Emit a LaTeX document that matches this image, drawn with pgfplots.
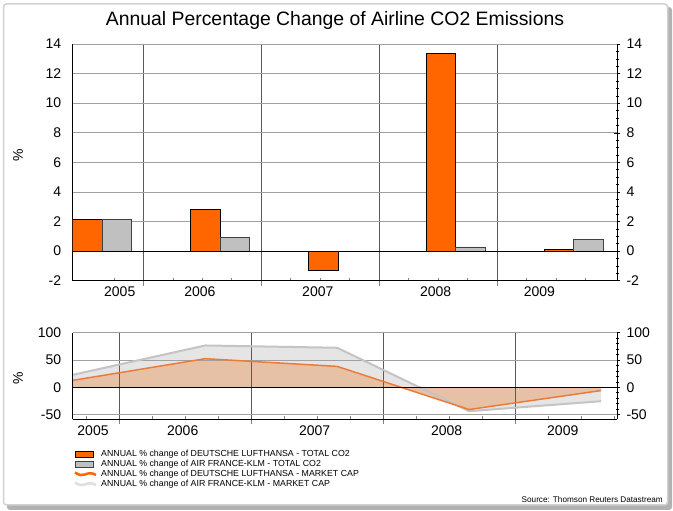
\documentclass[border=0pt]{standalone}
\usepackage{fontspec}
\setmainfont{Liberation Sans}
\usepackage{pgfplots}
\pgfplotsset{compat=1.18}

\definecolor{lhorange}{HTML}{FF6600}
\definecolor{afgray}{HTML}{C0C0C0}
\definecolor{lhline}{HTML}{EE7A3A}
\definecolor{lhfill}{HTML}{E7C1A6}
\definecolor{affill}{HTML}{E5E5E5}
\definecolor{afline}{HTML}{C4C4C4}
\definecolor{gridh}{HTML}{A0A0A0}
\definecolor{gridv}{HTML}{5A5A5A}

\tikzset{hgrid/.style={draw=gridh, line width=0.7pt}}

\pgfplotsset{
  base/.style={
    scale only axis, width=544.3pt,
    /pgf/number format/assume math mode=true,
    ticklabel style={font=\fontsize{14}{14}\selectfont},
    axis line style={-, black, line width=0.8pt},
  },
  % left/bottom axis: vertical grid, x ticks, left tick labels
  mainax/.style={
    base,
    axis x line*=bottom, axis y line*=left,
    xmajorgrids,
    major grid style={gridv, line width=0.5pt},
    ytick style={draw=none},
    tick align=outside, major tick length=5pt, minor tick length=3pt,
    minor tick style={yshift=3pt, line width=0.5pt},
    major tick style={line width=0.6pt},
    xtick={2006,2007,2008,2009}, xticklabels={,,,},
    extra x ticks={2005.80,2006.48,2007.48,2008.48,2009.36},
    extra x tick labels={2005,2006,2007,2008,2009},
    extra x tick style={grid=none, major tick length=0pt},
  },
  % right axis: data, right tick labels
  rightax/.style={
    base,
    axis x line=none, axis y line*=right,
    tick align=center, major tick length=6pt, minor tick length=3pt,
    tick style={black, line width=0.5pt},
  },
}

\begin{document}
\begin{tikzpicture}[x=1pt,y=1pt]
\useasboundingbox (0,0) rectangle (673,511);
% frame
\fill[gray!60, rounded corners=3pt] (7,1) rectangle (672,504);
\filldraw[fill=white, draw=gray!35, line width=1.5pt, rounded corners=3pt] (3.5,6) rectangle (667.5,507);

\node[font=\fontsize{19.4}{19.4}\selectfont] at (335,491) {Annual Percentage Change of Airline CO2 Emissions};
\node[rotate=90, font=\fontsize{14}{14}\selectfont] at (18,356) {\%};
\node[rotate=90, font=\fontsize{14}{14}\selectfont] at (18,133) {\%};

% ---------- top chart ----------
\begin{axis}[mainax, at={(72.7pt,230.3pt)}, anchor=south west, height=236.7pt,
  xmin=2005.401, xmax=2010.018, ymin=-2, ymax=14, ytick={-2,0,...,14},
  minor xtick={2005.75,2006.25,2006.5,2006.75,2007.25,2007.5,2007.75,2008.25,2008.5,2008.75,2009.25,2009.5,2009.75},
  yticklabel style={xshift=-3pt}, xticklabel style={yshift=-2pt}]
\end{axis}
\begin{axis}[rightax, at={(72.7pt,230.3pt)}, anchor=south west, height=236.7pt,
  xmin=2005.401, xmax=2010.018, ymin=-2, ymax=14, ytick={-2,0,...,14},
  minor y tick num=3, yticklabel style={xshift=3pt}]
\pgfplotsinvokeforeach{2,4,6,8,10,12,14}{
  \draw[hgrid] (axis cs:2005.401,#1) -- (axis cs:2010.018,#1);}
% Deutsche Lufthansa total CO2
\addplot[ybar, bar width=0.25, bar shift=-0.125, fill=lhorange, draw=black, line width=0.6pt]
  coordinates {(2005.65,2.15) (2006.65,2.83) (2007.65,-1.31) (2008.65,13.37) (2009.65,0.14)};
% Air France-KLM total CO2
\addplot[ybar, bar width=0.25, bar shift=0.125, fill=afgray, draw=black!75, line width=0.6pt]
  coordinates {(2005.65,2.15) (2006.65,0.93) (2008.65,0.29) (2009.65,0.79)};
\draw[black, line width=0.7pt] (axis cs:2005.401,0) -- (axis cs:2010.018,0);
\end{axis}

% ---------- bottom chart ----------
\begin{axis}[mainax, at={(72.7pt,91.5pt)}, anchor=south west, height=86.8pt,
  xmin=2005.646, xmax=2009.771, ymin=-59, ymax=100, ytick={-50,0,50,100},
  minor xtick={2005.75,2006.25,2006.5,2006.75,2007.25,2007.5,2007.75,2008.25,2008.5,2008.75,2009.25,2009.5,2009.75},
  yticklabel style={xshift=-3pt}, xticklabel style={yshift=-3pt}, axis on top]
% Air France-KLM market cap (area)
\addplot[fill=affill, draw=none] coordinates
  {(2005.65,23) (2006.65,76.6) (2007.65,72.4) (2008.65,-43.8) (2009.65,-25.5)} \closedcycle;
% Deutsche Lufthansa market cap (area)
\addplot[fill=lhfill, draw=none] coordinates
  {(2005.65,12.8) (2006.65,52.4) (2007.65,38.3) (2008.65,-40.7) (2009.65,-6)} \closedcycle;
\end{axis}
\begin{axis}[rightax, at={(72.7pt,91.5pt)}, anchor=south west, height=86.8pt,
  xmin=2005.646, xmax=2009.771, ymin=-59, ymax=100, ytick={-50,0,50,100},
  minor y tick num=4, yticklabel style={xshift=3pt}]
\pgfplotsinvokeforeach{-50,50,100}{
  \draw[hgrid] (axis cs:2005.646,#1) -- (axis cs:2009.771,#1);}
\addplot[afline, line width=2pt] coordinates
  {(2005.65,23) (2006.65,76.6) (2007.65,72.4) (2008.65,-43.8) (2009.65,-25.5)};
\addplot[lhline, line width=1.5pt] coordinates
  {(2005.65,12.8) (2006.65,52.4) (2007.65,38.3) (2008.65,-40.7) (2009.65,-6)};
\draw[black, line width=0.7pt] (axis cs:2005.646,0) -- (axis cs:2009.771,0);
\end{axis}

% ---------- legend ----------
\filldraw[fill=lhorange, draw=black, line width=0.6pt] (75.7,53.3) rectangle (93.3,59.3);
\filldraw[fill=afgray, draw=black!75, line width=0.6pt] (75.7,43.7) rectangle (93.3,49.7);
\draw[lhorange, line width=2.5pt] (75,38.5) .. controls (79,36) and (82,35) .. (85,36.5) .. controls (88,38) and (92,38.5) .. (96,36);
\draw[gray!25, line width=2.5pt] (75,28.5) .. controls (79,26) and (82,25) .. (85,26.5) .. controls (88,28) and (92,28.5) .. (96,26);
\begin{scope}[every node/.style={anchor=west, font=\fontsize{8.8}{8.8}\selectfont, inner sep=0pt}]
\node at (101,56.3) {ANNUAL \% change of DEUTSCHE LUFTHANSA - TOTAL CO2};
\node at (101,46.7) {ANNUAL \% change of AIR FRANCE-KLM - TOTAL CO2};
\node at (101,36.7) {ANNUAL \% change of DEUTSCHE LUFTHANSA - MARKET CAP};
\node at (101,27.0) {ANNUAL \% change of AIR FRANCE-KLM - MARKET CAP};
\end{scope}
\node[anchor=east, font=\fontsize{8.2}{8.2}\selectfont, inner sep=0pt] at (663,11.7) {Source: Thomson Reuters Datastream};
\end{tikzpicture}
\end{document}
